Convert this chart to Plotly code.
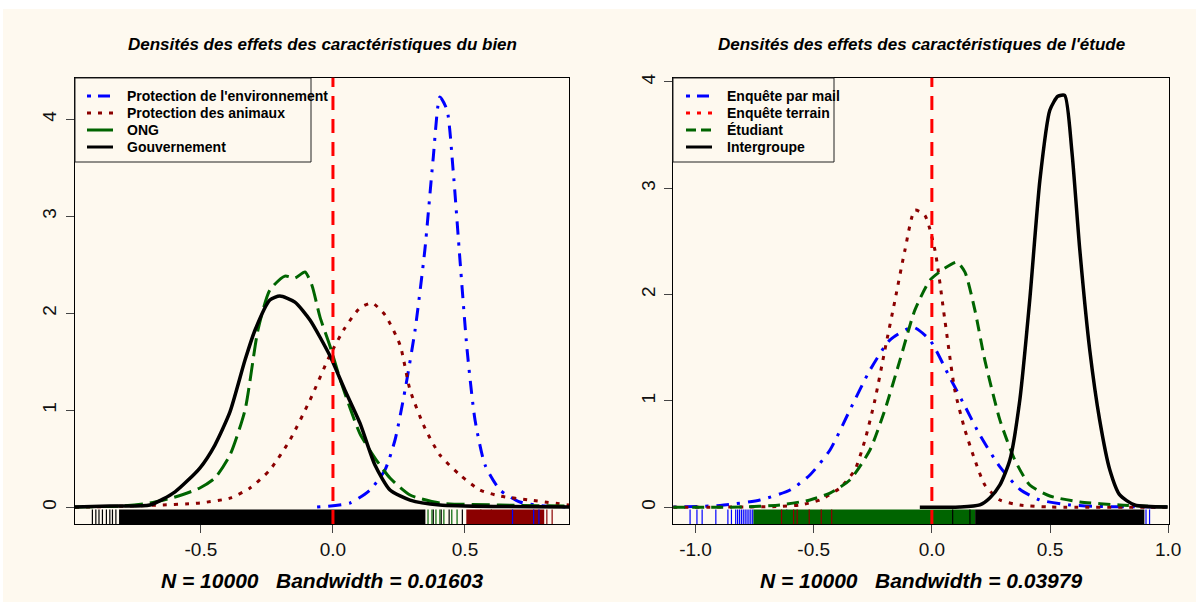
import plotly.graph_objects as go

W, H = 1196, 602
CREAM = "#FEF9EF"
FONT = "Liberation Sans, Arial, sans-serif"

# ---------------- Left panel: caractéristiques du bien ----------------
left_title = "Densités des effets des caractéristiques du bien"
left_sub = "N = 10000   Bandwidth = 0.01603"
left_names = ["Protection de l'environnement", "Protection des animaux", "ONG", "Gouvernement"]

env_x = [-0.060, 0.064, 0.140, 0.197, 0.235, 0.273, 0.311, 0.348, 0.379, 0.405, 0.432, 0.455, 0.481, 0.508, 0.538, 0.576, 0.633, 0.708, 0.803, 0.898]
env_y = [0.003, 0.044, 0.178, 0.385, 0.694, 1.209, 1.828, 2.653, 3.581, 4.230, 4.096, 3.477, 2.549, 1.622, 0.900, 0.436, 0.178, 0.055, 0.013, 0.003]

ani_x = [-0.977, -0.693, -0.504, -0.390, -0.314, -0.239, -0.163, -0.087, -0.011, 0.045, 0.102, 0.148, 0.197, 0.254, 0.292, 0.348, 0.405, 0.481, 0.557, 0.633, 0.746, 0.894]
ani_y = [0.0, 0.020, 0.045, 0.095, 0.199, 0.385, 0.694, 1.106, 1.570, 1.848, 2.055, 2.106, 1.983, 1.673, 1.209, 0.818, 0.539, 0.333, 0.178, 0.116, 0.075, 0.024]

ong_x = [-0.977, -0.807, -0.693, -0.598, -0.504, -0.447, -0.390, -0.333, -0.284, -0.239, -0.182, -0.144, -0.106, -0.080, -0.049, -0.011, 0.027, 0.064, 0.102, 0.159, 0.216, 0.292, 0.405, 0.633, 0.894]
ong_y = [0.003, 0.013, 0.044, 0.106, 0.199, 0.302, 0.539, 1.003, 1.828, 2.240, 2.384, 2.364, 2.426, 2.292, 1.960, 1.660, 1.320, 1.030, 0.760, 0.508, 0.302, 0.127, 0.044, 0.024, 0.013]

gov_x = [-0.977, -0.845, -0.693, -0.598, -0.504, -0.447, -0.390, -0.333, -0.295, -0.239, -0.201, -0.144, -0.087, -0.011, 0.045, 0.102, 0.159, 0.216, 0.292, 0.405, 0.633, 0.894]
gov_y = [0.003, 0.013, 0.024, 0.160, 0.405, 0.642, 0.983, 1.518, 1.828, 2.137, 2.178, 2.116, 1.931, 1.560, 1.210, 0.870, 0.436, 0.178, 0.075, 0.024, 0.008, 0.003]

# rug marks (left)
left_rug_black_lines = [-0.911, -0.898, -0.886, -0.873, -0.858, -0.845, -0.835, -0.822, 0.38, 0.41, 0.44, 0.49]
left_rug_black_bands = [(-0.81, 0.35)]
left_rug_green_lines = [0.36, 0.375, 0.39, 0.405, 0.42, 0.45, 0.47, 0.56, 0.60]
left_rug_darkred_bands = [(0.505, 0.80)]
left_rug_darkred_lines = [0.81, 0.83]
left_rug_blue_lines = [0.68, 0.76, 0.78]

# ---------------- Right panel: caractéristiques de l'étude ----------------
right_title = "Densités des effets des caractéristiques de l'étude"
right_sub = "N = 10000   Bandwidth = 0.03979"
right_names = ["Enquête par mail", "Enquête terrain", "Étudiant", "Intergroupe"]

mail_x = [-1.095, -0.896, -0.727, -0.600, -0.516, -0.431, -0.347, -0.262, -0.178, -0.080, -0.008, 0.076, 0.140, 0.203, 0.288, 0.372, 0.457, 0.584, 0.710, 0.998]
mail_y = [0.003, 0.017, 0.069, 0.163, 0.304, 0.539, 0.914, 1.290, 1.572, 1.694, 1.572, 1.220, 0.950, 0.680, 0.380, 0.170, 0.069, 0.022, 0.008, 0.003]

terr_x = [-1.095, -0.643, -0.558, -0.474, -0.389, -0.326, -0.283, -0.241, -0.199, -0.156, -0.114, -0.072, -0.030, 0.013, 0.055, 0.097, 0.140, 0.182, 0.224, 0.288, 0.372, 0.499, 0.998]
terr_y = [0.0, 0.008, 0.022, 0.069, 0.182, 0.351, 0.633, 1.008, 1.478, 1.948, 2.418, 2.794, 2.747, 2.418, 1.760, 1.102, 0.727, 0.445, 0.210, 0.069, 0.022, 0.003, 0.0]

etu_x = [-1.095, -0.812, -0.643, -0.516, -0.431, -0.347, -0.262, -0.199, -0.135, -0.072, -0.008, 0.055, 0.106, 0.140, 0.182, 0.224, 0.288, 0.351, 0.414, 0.499, 0.626, 0.795, 0.998]
etu_y = [0.0, 0.003, 0.022, 0.069, 0.134, 0.257, 0.539, 0.914, 1.384, 1.854, 2.136, 2.249, 2.306, 2.212, 1.854, 1.384, 0.820, 0.445, 0.210, 0.106, 0.050, 0.022, 0.003]

inter_x = [-0.051, 0.118, 0.203, 0.245, 0.288, 0.330, 0.372, 0.414, 0.457, 0.499, 0.533, 0.562, 0.592, 0.626, 0.668, 0.710, 0.753, 0.795, 0.858, 0.998]
inter_y = [0.0, 0.003, 0.022, 0.087, 0.210, 0.445, 1.008, 1.948, 3.076, 3.734, 3.865, 3.874, 3.357, 2.418, 1.478, 0.820, 0.351, 0.116, 0.022, 0.003]

# rug marks (right)
right_rug_blue_lines = [-1.023, -0.994, -0.972, -0.914, -0.863, -0.848, -0.830, -0.822, -0.814, -0.806,
                        -0.798, -0.790, -0.782, -0.774, -0.766, -0.758, -0.614, 0.906, 0.921]
right_rug_green_bands = [(-0.755, 0.183)]
right_rug_darkred_lines = [-0.636, -0.585, -0.570, -0.519, -0.468, -0.424]
right_rug_black_lines = [0.088, 0.161]
right_rug_black_bands = [(0.183, 0.899)]

left_ticks = [-0.5, 0.0, 0.5]
right_ticks = [-1.0, -0.5, 0.0, 0.5, 1.0]
y_ticks = [0, 1, 2, 3, 4]

BLUE, DRED, GREEN, BLACK, RED = "#0000FF", "#8B0000", "#006400", "#000000", "#FF0000"
DOTDASH, DOTTED, LONGDASH, DASHED = "3px,8px,13px,8px", "4px,7px", "18px,7px", "12px,7px"


def fx(p):
    return p / W


def fy(p):
    return 1 - p / H


L_DOM = [fx(74.7), fx(569.3)]
R_DOM = [fx(673.3), fx(1168.7)]
Y_DOM = [fy(524), fy(77.7)]

fig = go.Figure()

left_series = [(env_x, env_y, BLUE, DOTDASH, 3), (ani_x, ani_y, DRED, DOTTED, 3),
               (ong_x, ong_y, GREEN, LONGDASH, 3), (gov_x, gov_y, BLACK, "solid", 3.5)]
right_series = [(mail_x, mail_y, BLUE, DOTDASH, 3), (terr_x, terr_y, DRED, DOTTED, 3),
                (etu_x, etu_y, GREEN, DASHED, 3), (inter_x, inter_y, BLACK, "solid", 3.5)]

for (xs, ys, c, d, w), nm in zip(left_series, left_names):
    fig.add_trace(go.Scatter(x=xs, y=ys, mode="lines", name=nm, xaxis="x", yaxis="y",
                             line=dict(color=c, dash=d, width=w, shape="spline", smoothing=0.6),
                             showlegend=False))
for (xs, ys, c, d, w), nm in zip(right_series, right_names):
    fig.add_trace(go.Scatter(x=xs, y=ys, mode="lines", name=nm, xaxis="x2", yaxis="y2",
                             line=dict(color=c, dash=d, width=w, shape="spline", smoothing=0.6),
                             showlegend=False))

shapes = []
# background with thin white border at top / left
shapes.append(dict(type="rect", xref="paper", yref="paper", x0=fx(3), x1=1, y0=0, y1=fy(9),
                   fillcolor=CREAM, line=dict(width=0), layer="below"))

RUG_H = 0.0325


def rug_lines(xs, color, xa, ya):
    for v in xs:
        shapes.append(dict(type="line", xref=xa, yref=ya + " domain", x0=v, x1=v, y0=0, y1=RUG_H,
                           line=dict(color=color, width=1.2)))


def rug_bands(bands, color, xa, ya):
    for a, b in bands:
        shapes.append(dict(type="rect", xref=xa, yref=ya + " domain", x0=a, x1=b, y0=0, y1=RUG_H,
                           fillcolor=color, line=dict(width=0)))


rug_bands(left_rug_black_bands, BLACK, "x", "y")
rug_lines(left_rug_black_lines, BLACK, "x", "y")
rug_lines(left_rug_green_lines, GREEN, "x", "y")
rug_bands(left_rug_darkred_bands, DRED, "x", "y")
rug_lines(left_rug_darkred_lines, DRED, "x", "y")
rug_lines(left_rug_blue_lines, BLUE, "x", "y")

rug_lines(right_rug_blue_lines, BLUE, "x2", "y2")
rug_bands(right_rug_green_bands, GREEN, "x2", "y2")
rug_lines(right_rug_darkred_lines, DRED, "x2", "y2")
rug_bands(right_rug_black_bands, BLACK, "x2", "y2")
rug_lines(right_rug_black_lines, BLACK, "x2", "y2")

# vertical red dashed reference line at 0
for xa, ya in (("x", "y"), ("x2", "y2")):
    shapes.append(dict(type="line", xref=xa, yref=ya + " domain", x0=0, x1=0, y0=0, y1=1,
                       line=dict(color=RED, width=3, dash="14px,9px")))

annotations = []


# legends (manual, drawn in pixel space)
def legend(box, entries, samp_x0, samp_x1, text_x):
    x0, y0, x1, y1 = box
    shapes.append(dict(type="rect", xref="paper", yref="paper", x0=fx(x0), x1=fx(x1), y0=fy(y1), y1=fy(y0),
                       fillcolor=CREAM, line=dict(color="#222", width=1)))
    for (label, color, dash), yy in zip(entries, [96, 113, 130, 147]):
        shapes.append(dict(type="line", xref="paper", yref="paper", x0=fx(samp_x0), x1=fx(samp_x1),
                           y0=fy(yy), y1=fy(yy), line=dict(color=color, width=3, dash=dash)))
        annotations.append(dict(xref="paper", yref="paper", x=fx(text_x), y=fy(yy), text=label,
                                showarrow=False, xanchor="left", yanchor="middle",
                                font=dict(family=FONT, size=14, color="black", weight="bold")))


legend((75, 78, 311, 162),
       [(left_names[0], BLUE, "4px,7px,12px,7px"), (left_names[1], DRED, "4px,7px"),
        (left_names[2], GREEN, "solid"), (left_names[3], BLACK, "solid")],
       87, 113, 125)
legend((673, 78, 834, 162),
       [(right_names[0], BLUE, "4px,7px,12px,7px"), (right_names[1], RED, "4px,7px"),
        (right_names[2], GREEN, "10px,5px"), (right_names[3], BLACK, "solid")],
       686, 712, 725)

for dom, title, sub in ((L_DOM, left_title, left_sub), (R_DOM, right_title, right_sub)):
    cx = (dom[0] + dom[1]) / 2
    annotations.append(dict(xref="paper", yref="paper", x=cx, y=fy(45), text=title, showarrow=False,
                            xanchor="center", yanchor="middle",
                            font=dict(family=FONT, size=17, color="black", weight="bold", style="italic")))
    annotations.append(dict(xref="paper", yref="paper", x=cx, y=fy(580), text=sub, showarrow=False,
                            xanchor="center", yanchor="middle",
                            font=dict(family=FONT, size=21, color="black", weight="bold", style="italic")))

axis_common = dict(showgrid=False, zeroline=False, showline=True, mirror=True, linecolor="black",
                   linewidth=1, ticks="outside", ticklen=8, tickcolor="#444", tickwidth=1,
                   automargin=False, tickfont=dict(family=FONT, size=19, color="#111"))

fig.update_layout(
    width=W, height=H, margin=dict(l=0, r=0, t=0, b=0, autoexpand=False),
    paper_bgcolor="white", plot_bgcolor=CREAM, showlegend=False,
    xaxis=dict(domain=L_DOM, range=[-0.978, 0.895], tickvals=left_ticks,
               ticktext=[f"{v:.1f}" for v in left_ticks], anchor="y", **axis_common),
    yaxis=dict(domain=Y_DOM, range=[-0.172, 4.429], tickvals=y_ticks, tickangle=-90, anchor="x",
               ticklabelstandoff=2, **axis_common),
    xaxis2=dict(domain=R_DOM, range=[-1.094, 1.002], tickvals=right_ticks,
                ticktext=[f"{v:.1f}" for v in right_ticks], anchor="y2", **axis_common),
    yaxis2=dict(domain=Y_DOM, range=[-0.157, 4.04], tickvals=y_ticks, tickangle=-90, anchor="x2",
                ticklabelstandoff=2, **axis_common),
    shapes=shapes, annotations=annotations,
)

fig.write_html("out.html")
